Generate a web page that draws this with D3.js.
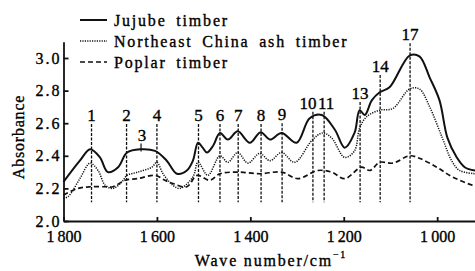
<!DOCTYPE html>
<html>
<head>
<meta charset="utf-8">
<script src="https://cdn.jsdelivr.net/npm/d3@7"></script>
<style>
  body { margin: 0; background: #fff; }
  text { font-family: "Liberation Serif", "Times New Roman", serif; fill: #000; stroke: #000; stroke-width: 0.35px; }
</style>
</head>
<body>
<svg id="chart"></svg>
<script>
// jujube timber (solid)
var jujubeWave = [1800, 1765, 1743, 1722, 1705, 1683, 1664, 1636, 1604, 1579, 1557, 1536, 1523, 1512, 1502, 1493, 1480, 1465, 1448, 1427, 1401, 1378, 1358, 1333, 1301, 1273, 1247, 1219, 1198, 1177, 1166, 1155, 1140, 1123, 1102, 1059, 1038, 1016, 995, 978, 958, 941, 919];
var jujubeAbs  = [2.24, 2.37, 2.44, 2.39, 2.30, 2.33, 2.42, 2.44, 2.43, 2.37, 2.29, 2.31, 2.37, 2.48, 2.45, 2.42, 2.46, 2.54, 2.50, 2.55, 2.48, 2.545, 2.50, 2.54, 2.48, 2.63, 2.65, 2.56, 2.45, 2.54, 2.68, 2.65, 2.74, 2.79, 2.82, 3.015, 3.01, 2.88, 2.74, 2.51, 2.39, 2.33, 2.31];

// northeast china ash timber (dotted)
var ashWave = [1800, 1790, 1765, 1743, 1726, 1711, 1694, 1675, 1664, 1641, 1611, 1600, 1587, 1566, 1551, 1523, 1512, 1491, 1465, 1448, 1427, 1405, 1380, 1358, 1333, 1305, 1268, 1245, 1226, 1198, 1177, 1166, 1151, 1123, 1095, 1059, 1038, 1016, 989, 969, 952, 919];
var ashAbs  = [2.14, 2.15, 2.26, 2.355, 2.31, 2.22, 2.20, 2.24, 2.28, 2.30, 2.33, 2.36, 2.29, 2.22, 2.20, 2.27, 2.36, 2.28, 2.40, 2.36, 2.42, 2.355, 2.415, 2.37, 2.42, 2.36, 2.495, 2.54, 2.51, 2.39, 2.43, 2.57, 2.64, 2.68, 2.69, 2.81, 2.81, 2.70, 2.51, 2.37, 2.31, 2.29];

// poplar timber (dashed)
var poplarWave = [1800, 1769, 1743, 1711, 1694, 1668, 1641, 1604, 1583, 1566, 1536, 1514, 1487, 1465, 1427, 1380, 1333, 1298, 1256, 1226, 1198, 1162, 1144, 1123, 1095, 1059, 1038, 1001, 967, 924, 919];
var poplarAbs  = [2.16, 2.20, 2.21, 2.21, 2.21, 2.25, 2.26, 2.28, 2.25, 2.23, 2.21, 2.28, 2.25, 2.29, 2.30, 2.29, 2.30, 2.26, 2.31, 2.30, 2.26, 2.33, 2.31, 2.36, 2.355, 2.40, 2.385, 2.33, 2.27, 2.22, 2.22];

// peak markers
var peakNames = ["1", "2", "4", "5", "6", "7", "8", "9", "10", "11", "13", "14", "17"];
var peakWave  = [1740, 1665, 1600, 1511, 1465, 1426, 1377, 1332, 1266, 1242, 1165, 1122, 1058];
var peakTop   = [2.595, 2.595, 2.595, 2.595, 2.595, 2.595, 2.595, 2.60, 2.67, 2.67, 2.73, 2.895, 3.09];
var peakBottom = 2.115;
var peak3Wave = 1634, peak3Abs = 2.445;

var xTicks = [1800, 1600, 1400, 1200, 1000];
var yTicks = [2.0, 2.2, 2.4, 2.6, 2.8, 3.0];
var legendNames = ["Jujube timber", "Northeast China ash timber", "Poplar timber"];

function drawChart(){
  var svgWidth = 475, svgHeight = 271;
  var svg = d3.select("#chart")
    .attr("width", svgWidth)
    .attr("height", svgHeight);

  var x = d3.scaleLinear().domain([1800, 919]).range([63.5, 475]);
  var y = d3.scaleLinear().domain([2.0, 3.1]).range([221, 41.7]);

  var series = [
    { wave: jujubeWave, abs: jujubeAbs, dash: null, width: 2 },
    { wave: ashWave, abs: ashAbs, dash: "1.2,1.2", width: 1.5 },
    { wave: poplarWave, abs: poplarAbs, dash: "5,3", width: 1.7 }
  ];

  var line = d3.line()
    .x(function(d) { return x(d[0]); })
    .y(function(d) { return y(d[1]); })
    .curve(d3.curveCatmullRom.alpha(0.5));

  // peak guide lines
  var peaks = svg.append("g");
  peakNames.forEach(function(name, i){
    peaks.append("line")
      .attr("x1", x(peakWave[i])).attr("x2", x(peakWave[i]))
      .attr("y1", y(peakTop[i])).attr("y2", y(peakBottom))
      .attr("stroke", "#111")
      .attr("stroke-width", 1.3)
      .attr("stroke-dasharray", "3,1.5");
    var dx = 0;
    if (name == "10") dx = -5;
    if (name == "11") dx = 2;
    peaks.append("text")
      .attr("x", x(peakWave[i]) + dx)
      .attr("y", y(peakTop[i]) - 3)
      .attr("text-anchor", "middle")
      .attr("font-size", 17)
      .text(name);
  });
  // peak 3 is only a small tick on the curve
  peaks.append("line")
    .attr("x1", x(peak3Wave)).attr("x2", x(peak3Wave))
    .attr("y1", y(peak3Abs) - 5).attr("y2", y(peak3Abs) + 3)
    .attr("stroke", "#111").attr("stroke-width", 1.2);
  peaks.append("text")
    .attr("x", x(peak3Wave) + 1)
    .attr("y", y(peak3Abs) - 7)
    .attr("text-anchor", "middle")
    .attr("font-size", 17)
    .text("3");

  // curves
  series.forEach(function(s){
    var pts = s.wave.map(function(w, i){ return [w, s.abs[i]]; });
    svg.append("path")
      .datum(pts)
      .attr("fill", "none")
      .attr("stroke", "#111")
      .attr("stroke-width", s.width)
      .attr("stroke-dasharray", s.dash)
      .attr("stroke-linejoin", "round")
      .attr("d", line);
  });

  // axes
  var xAxis = svg.append("g")
    .attr("transform", "translate(0,221)")
    .call(d3.axisBottom(x).tickValues(xTicks).tickSizeInner(-4).tickSizeOuter(0).tickPadding(10)
      .tickFormat(function(d){ return d3.format(",")(d).replace(",", "\u2009"); }));
  xAxis.selectAll("text").attr("font-size", 16).attr("fill", "#000").attr("font-family", null);

  var yAxis = svg.append("g")
    .attr("transform", "translate(63.5,0)")
    .call(d3.axisLeft(y).tickValues(yTicks).tickSizeInner(-5).tickSizeOuter(0).tickPadding(2)
      .tickFormat(d3.format(".1f")));
  yAxis.selectAll("text").attr("font-size", 16).attr("fill", "#000")
    .attr("letter-spacing", 2).attr("font-family", null);

  svg.selectAll(".domain, .tick line").attr("stroke", "#111").attr("stroke-width", 1.8);

  // axis titles
  svg.append("text")
    .attr("transform", "translate(24,137) rotate(-90)")
    .attr("text-anchor", "middle")
    .attr("font-size", 16)
    .attr("letter-spacing", 0.8)
    .text("Absorbance");

  var xt = svg.append("text")
    .attr("x", 271)
    .attr("y", 266)
    .attr("text-anchor", "middle")
    .attr("font-size", 16)
    .attr("letter-spacing", 1.8);
  xt.append("tspan").text("Wave number/cm");
  xt.append("tspan").attr("font-size", 10).attr("dy", -8).text("\u22121");

  // legend
  var legend = svg.append("g");
  series.forEach(function(s, i){
    var ly = 20 + i * 21;
    legend.append("line")
      .attr("x1", 80).attr("x2", 107)
      .attr("y1", ly).attr("y2", ly)
      .attr("stroke", "#111")
      .attr("stroke-width", s.width)
      .attr("stroke-dasharray", s.dash);
    legend.append("text")
      .attr("x", 114)
      .attr("y", ly + 6)
      .attr("font-size", 16)
      .attr("letter-spacing", 1.8)
      .attr("word-spacing", 4)
      .text(legendNames[i]);
  });
}

drawChart();
</script>
</body>
</html>
